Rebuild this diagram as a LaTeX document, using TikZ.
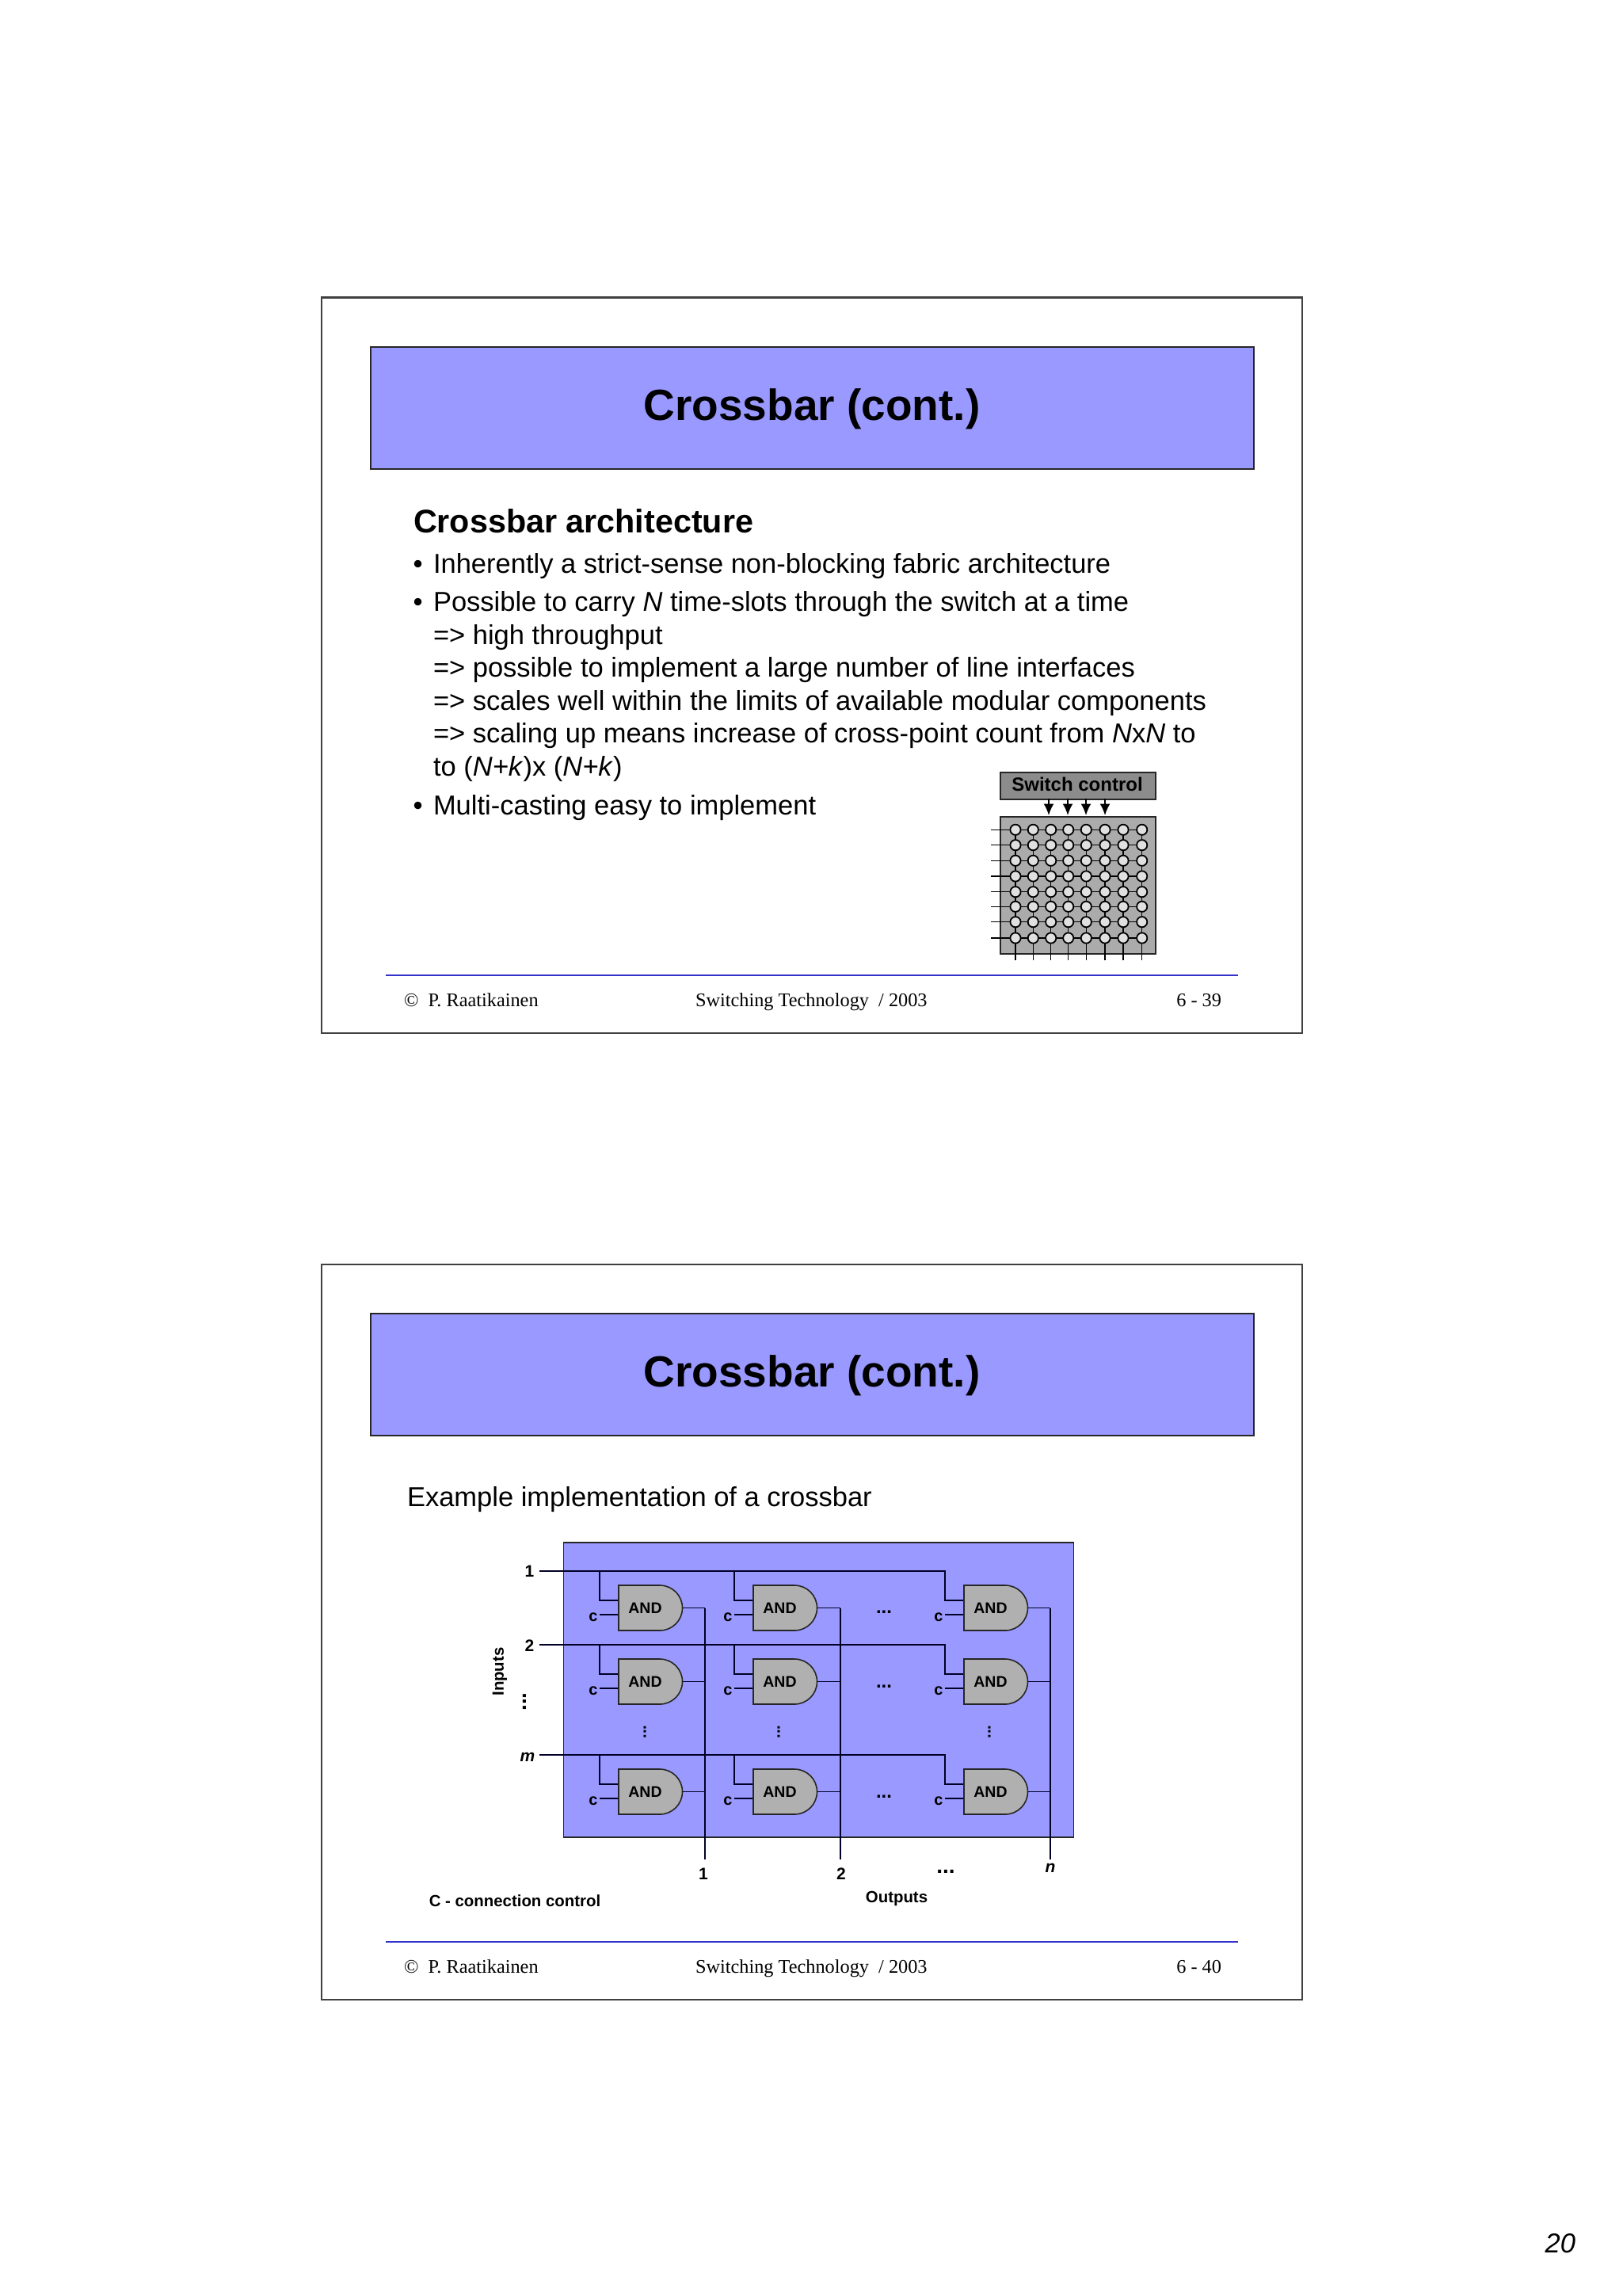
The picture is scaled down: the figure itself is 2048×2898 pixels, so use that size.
\documentclass[tikz,border=0pt]{standalone}
\usepackage{fontspec}
\setmainfont{Liberation Sans}
\newfontfamily\timesf{Liberation Serif}
\usetikzlibrary{arrows.meta}
\definecolor{slideblue}{HTML}{9999FF}
\definecolor{gatefill}{HTML}{B0B0B0}
\definecolor{framegray}{HTML}{404040}
\definecolor{footblue}{HTML}{3333CC}
\newcommand{\px}[1]{\fontsize{\dimexpr#1pt*1/4\relax}{\dimexpr#1pt*3/10\relax}\selectfont}
\tikzset{
 x=0.25pt,y=-0.25pt,
 frame/.style={draw=framegray,line width=0.55pt,fill=white},
 titlebox/.style={draw=black!85,line width=0.4pt,fill=slideblue},
 wire/.style={draw=black!85!blue,line width=0.45pt},
 txt/.style={inner sep=0pt,outer sep=0pt,text=black},
 lbl/.style={txt,anchor=base west},
 blab/.style={txt,font=\bfseries\px{20.4}},
 foot/.style={txt,anchor=base west,font=\timesf\px{24.3}},
 footline/.style={draw=footblue,line width=0.4pt},
 gatebody/.style={draw=black!85,line width=0.4pt,fill=gatefill},
 xpoint/.style={circle,draw=black,line width=0.45pt,fill=black!12,minimum size=3.3pt,inner sep=0pt},
 swire/.style={draw=black,line width=0.35pt},
 sarrow/.style={draw=black,line width=0.4pt,-{Latex[length=3.6pt,width=3.2pt]}},
}
\begin{document}
\begin{tikzpicture}
\useasboundingbox (0,0) rectangle (2048,2898);
\fill[white] (0,0) rectangle (2048,2898);
% ---------- frames shared by both slides
\foreach \dy/\num in {0/39,1220/40}{
 \begin{scope}[yshift=-\dy*0.25pt]
 \node[frame,anchor=north west,minimum width=309.5pt,minimum height=232pt] (fr\num) at (404.5,374.5) {};
 \node[titlebox,anchor=north west,minimum width=278.75pt,minimum height=38.5pt] (tb\num) at (467,437) {};
 \node[txt,font=\bfseries\px{55}] (tt\num) at (1025,516) {Crossbar (cont.)};
 \coordinate (fl\num) at (487,1231);
 \coordinate (fr\num x) at (1563,1231);
 \draw[footline] (fl\num) -- (fr\num x);
 \node[foot] (fa\num) at (510,1270) {©\hspace{0.5em}P. Raatikainen};
 \node[foot] (fb\num) at (878,1270) {Switching Technology\hspace{0.5em}/ 2003};
 \node[foot,anchor=base east] (fc\num) at (1542,1270.5) {6 - \num};
 \end{scope}
}
% ---------- slide 1 text
\node[lbl,font=\bfseries\px{41.3}] (h1) at (522,672) {Crossbar architecture};
\tikzset{body/.style={lbl,font=\px{34.5}}}
\node[body] (b0) at (521.5,723) {•};
\node[body] (b1) at (547,723) {Inherently a strict-sense non-blocking fabric architecture};
\node[body] (b2a) at (521.5,772) {•};
\node[body] (b2) at (547,772) {Possible to carry \textit{N} time-slots through the switch at a time};
\node[body] (b3) at (547,813) {=> high throughput};
\node[body] (b4) at (547,854.5) {=> possible to implement a large number of line interfaces};
\node[body] (b5) at (547,896) {=> scales well within the limits of available modular components};
\node[body] (b6) at (547,937.5) {=> scaling up means increase of cross-point count from \textit{N}x\textit{N} to};
\node[body] (b7) at (547,979) {to (\textit{N+k})x (\textit{N+k})};
\node[body] (b8a) at (521.5,1028) {•};
\node[body] (b8) at (547,1028) {Multi-casting easy to implement};
% ---------- switch fabric
\node[draw=black!85,line width=0.5pt,fill=black!45,anchor=north west,minimum width=49pt,minimum height=8.5pt,inner sep=0pt] (sc) at (1262,974) {};
\node[txt,font=\bfseries\px{24}] (sct) at (1360,990) {Switch control};
\node[draw=black!85,line width=0.5pt,fill=black!33,anchor=north west,minimum width=49pt,minimum height=43.25pt,inner sep=0pt] (fab) at (1262,1030) {};
\foreach \xx/\n in {1324/1,1348/2,1371/3,1395/4}{
 \coordinate (a\n) at (\xx,1008);
 \coordinate (e\n) at (\xx,1029);
 \draw[sarrow] (a\n) -- (e\n);
}
\foreach \yy [count=\r] in {1047.3,1066.7,1086.3,1106,1125.7,1144.3,1163.7,1184}{
 \coordinate (il\r) at (1251,\yy);
 \foreach \xx [count=\c] in {1282,1304.3,1326.7,1348.7,1371.3,1395,1418,1441.7}{
  \coordinate (p\r-\c) at (\xx,\yy);
  \coordinate (ob\c) at (\xx,1212);
 }
}
\foreach \r in {1,...,8}{
 \draw[swire] (il\r) -- (p\r-8);
 \draw[swire] (p1-\r) -- (ob\r);
}
\foreach \r in {1,...,8}{\foreach \c in {1,...,8}{
 \node[xpoint] (n\r-\c) at (p\r-\c) {};
}}
% ---------- slide 2
\node[lbl,font=\px{34.5}] (ex) at (514,1901) {Example implementation of a crossbar};
\node[draw=black!85,line width=0.45pt,fill=slideblue,anchor=north west,minimum width=161pt,minimum height=93pt,inner sep=0pt] (panel) at (710.5,1946) {};
\foreach \yy/\nm in {1983/r1,2076/r2,2215/r3}{
 \coordinate (\nm s) at (681,\yy);
 \coordinate (\nm e) at (1194,\yy);
 \draw[wire] (\nm s) -- (\nm e);
}
\node[blab,font=\bfseries\px{21}] (l1) at (668.5,1983) {1};
\node[blab,font=\bfseries\px{21}] (l2) at (668.5,2077) {2};
\node[blab,font=\bfseries\px{21}] (lm) at (666,2218) {\textit{m}};
\node[blab,rotate=90] (linputs) at (631,2110) {Inputs};
\node[blab,font=\bfseries\px{28},rotate=90] (ld) at (662,2148) {...};
% gates
\foreach \gx/\ox/\cc [count=\k] in {781/890/a,951/1061/b,1217/1326/c}{
 \pgfmathsetmacro{\dx}{\gx-24}
 \pgfmathsetmacro{\cx}{\gx-32}
 \pgfmathsetmacro{\tx}{\gx+33.5}
 \pgfmathsetmacro{\sx}{\gx+52}
 \foreach \yy/\r in {1983/1,2076/2,2215/3}{
  \pgfmathsetmacro{\t}{\yy+18}
  \pgfmathsetmacro{\b}{\yy+75}
  \pgfmathsetmacro{\m}{\yy+46.5}
  \pgfmathsetmacro{\iu}{\yy+37}
  \pgfmathsetmacro{\il}{\yy+55}
  \pgfmathsetmacro{\lc}{\yy+58}
  \coordinate (t\cc\r) at (\dx,\yy);
  \coordinate (u\cc\r) at (\dx,\iu);
  \coordinate (v\cc\r) at (\gx,\iu);
  \coordinate (w\cc\r) at (\dx,\il);
  \coordinate (z\cc\r) at (\gx,\il);
  \coordinate (o\cc\r) at (\gx+80,\m);
  \coordinate (q\cc\r) at (\ox,\m);
  \draw[wire] (t\cc\r) -- (u\cc\r) -- (v\cc\r);
  \draw[wire] (w\cc\r) -- (z\cc\r);
  \draw[wire] (o\cc\r) -- (q\cc\r);
  \draw[gatebody] (\gx,\t) -- (\sx,\t) arc[start angle=90,end angle=-90,x radius=28.5,y radius=-28.5] -- (\gx,\b) -- cycle;
  \node[blab,font=\bfseries\px{19.5}] (and\cc\r) at (\tx,\m) {AND};
  \node[blab,font=\bfseries\px{20}] (c\cc\r) at (\cx,\lc) {c};
 }
 \coordinate (ot\k) at (\ox,2029.5);
 \coordinate (ob2x\k) at (\ox,2347);
 \draw[wire] (ot\k) -- (ob2x\k);
}
\foreach \xx/\nm in {814/da,983/db,1249/dc}{
 \node[blab,rotate=90] (\nm) at (\xx,2186) {...};
}
\foreach \yy/\nm in {2035/ha,2129/hb,2268/hc}{
 \node[blab,font=\bfseries\px{24}] (\nm) at (1116,\yy) {...};
}
\node[blab,font=\bfseries\px{21}] (o1) at (888,2365) {1};
\node[blab,font=\bfseries\px{21}] (o2) at (1062,2365) {2};
\node[blab,font=\bfseries\px{28}] (od) at (1194,2362) {...};
\node[blab,font=\bfseries\px{21}] (on) at (1326,2358) {\textit{n}};
\node[blab] (outs) at (1132,2396) {Outputs};
\node[blab] (cc) at (650,2399) {C - connection control};
\node[txt,anchor=base east,font=\itshape\px{34.5}] (pg) at (1989,2843) {20};
\end{tikzpicture}
\end{document}
